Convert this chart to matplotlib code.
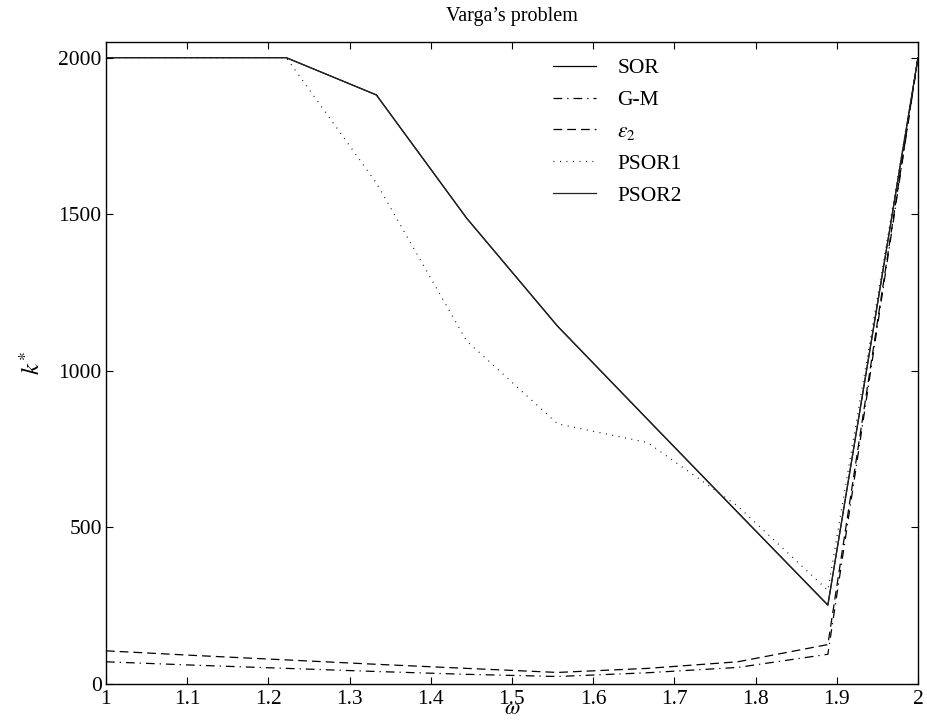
import numpy as np
import matplotlib as mpl
mpl.use("Agg")
import matplotlib.pyplot as plt

# omega values (10 equally spaced points between 1 and 2)
omega = [1.0, 1.111, 1.222, 1.333, 1.444, 1.556, 1.667, 1.778, 1.889, 2.0]

sor = [2000, 2000, 2000, 1881, 1488, 1143, 845, 548, 252, 2000]
gm = [71, 60, 50, 40, 31, 24, 36, 53, 95, 2000]
eps2 = [106, 91, 77, 63, 50, 37, 50, 71, 126, 2000]
psor1 = [2000, 2000, 2000, 1600, 1096, 831, 771, 568, 299, 2000]
psor2 = [2000, 2000, 2000, 1881, 1488, 1143, 845, 548, 252, 2000]

labels = ["SOR", "G-M", r"$\varepsilon_2$", "PSOR1", "PSOR2"]
yticks = [0, 500, 1000, 1500, 2000]
xticks = [1, 1.1, 1.2, 1.3, 1.4, 1.5, 1.6, 1.7, 1.8, 1.9, 2]


def setup_style():
    mpl.rcParams.update({
        "font.family": "serif",
        "font.serif": ["Liberation Serif", "DejaVu Serif"],
        "mathtext.fontset": "stix",
        "font.size": 15.5,
        "xtick.direction": "in",
        "ytick.direction": "in",
        "xtick.top": True,
        "ytick.right": True,
        "xtick.major.size": 5,
        "ytick.major.size": 5,
        "axes.linewidth": 1.0,
    })


setup_style()
fig = plt.figure(figsize=(9.27, 7.28), dpi=100)
ax = fig.add_axes([0.1143, 0.0604, 0.8760, 0.8819])

lw = 0.9
ax.plot(omega, sor, color="black", lw=lw, ls="-", label=labels[0])
ax.plot(omega, gm, color="black", lw=lw, ls=(0, (7, 4, 1, 4)), label=labels[1])
ax.plot(omega, eps2, color="black", lw=lw, ls=(0, (7, 4)), label=labels[2])
ax.plot(omega, psor1, color="black", lw=lw, ls=(0, (0.7, 4.5)), label=labels[3])
ax.plot(omega, psor2, color="#222222", lw=lw, ls="-", label=labels[4])

ax.set_xlim(1, 2)
ax.set_ylim(0, 2050)
ax.set_xticks(xticks)
ax.set_xticklabels([f"{t:g}" for t in xticks])
ax.set_yticks(yticks)
ax.tick_params(axis="x", pad=4)
ax.tick_params(axis="y", pad=3)

ax.set_title("Varga\u2019s problem", fontsize=14.5, pad=15)
# omega sits tight under the tick labels, as in the reference
ax.set_xlabel(r"$\omega$", fontsize=16, labelpad=-6)
ax.set_ylabel(r"$k^{*}$", fontsize=18, labelpad=10)

ax.legend(loc="upper left", bbox_to_anchor=(0.55, 0.975), frameon=False,
          handlelength=2.0, handletextpad=1.0, labelspacing=0.55,
          borderpad=0, borderaxespad=0)

fig.savefig("out.png", dpi=100)
plt.close(fig)
